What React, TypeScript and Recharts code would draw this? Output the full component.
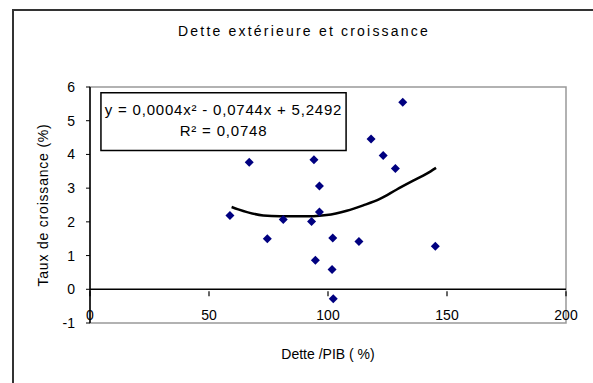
// Dette extérieure et croissance — Excel-style scatter with polynomial trendline.

import {
  ComposedChart, Scatter, Line, XAxis, YAxis,
  ReferenceLine, ReferenceArea, Label,
} from 'recharts'

// observed points: debt / GDP (%) vs growth rate (%)
const DEBT = [58.8, 66.9, 74.5, 81.2, 93.1, 94.1, 96.4, 96.4, 94.7, 101.7, 102, 102.2, 113, 118.1, 131.4, 123.2, 128.3, 145.1]
const GROWTH = [2.19, 3.77, 1.5, 2.07, 2.01, 3.84, 3.06, 2.29, 0.86, 0.59, 1.52, -0.28, 1.42, 4.46, 5.55, 3.97, 3.58, 1.28]

// polynomial trendline
const TREND_X = [59.5, 62.3, 72.8, 79.8, 93.8, 99.4, 107.9, 114.8, 121.8, 128.9, 135.8, 141.5, 145.4]
const TREND_Y = [2.44, 2.37, 2.19, 2.17, 2.17, 2.2, 2.33, 2.49, 2.68, 2.96, 3.22, 3.43, 3.6]

const X_TICKS = [0, 50, 100, 150, 200]
const Y_TICKS = [-1, 0, 1, 2, 3, 4, 5, 6]

const TITLE = 'Dette extérieure et croissance'
const X_LABEL = 'Dette /PIB ( %)'
const Y_LABEL = 'Taux de croissance (%)'
const EQ_LINE1 = 'y = 0,0004x² - 0,0744x + 5,2492'
const EQ_LINE2 = 'R² = 0,0748'
// equation box corners, in data units
const EQ_X = [4.6, 107.6]
const EQ_Y = [4.12, 5.83]

const points = DEBT.map((x, i) => ({ x, y: GROWTH[i] }))
const trend = TREND_X.map((x, i) => ({ x, y: TREND_Y[i] }))

const FONT = '"Liberation Sans", Arial, sans-serif'
const UNIT_PX = 33.8 // one y unit, used to hang x ticks on the zero line

const Diamond = ({ cx, cy }: any) => (
  <polygon
    points={`${cx},${cy - 4.5} ${cx + 4.5},${cy} ${cx},${cy + 4.5} ${cx - 4.5},${cy}`}
    fill="#000080"
  />
)

const XTick = ({ x, y, payload }: any) => {
  const y0 = y - UNIT_PX
  return (
    <g>
      <line x1={x} x2={x} y1={y0} y2={y0 + 5} stroke="#000" strokeWidth={1.2} />
      <text x={x} y={y - 5} textAnchor="middle" fontSize={14} fontFamily={FONT} fill="#000">
        {payload.value}
      </text>
    </g>
  )
}

const EqLabel = ({ viewBox }: any) => {
  const { x, y, width } = viewBox
  return (
    <g fontFamily={FONT} fontSize={15} fill="#000" letterSpacing={0.8}>
      <text x={x + width / 2} y={y + 22} textAnchor="middle">{EQ_LINE1}</text>
      <text x={x + width / 2} y={y + 43} textAnchor="middle">{EQ_LINE2}</text>
    </g>
  )
}

export default function App() {
  return (
    <div style={{
      position: 'absolute', left: 0, top: 0, width: 593, height: 383,
      overflow: 'hidden', background: '#fff', fontFamily: FONT,
    }}>
      <div style={{
        position: 'absolute', left: 12, top: 9, width: 620, height: 372,
        border: '2px solid #333',
      }} />
      <div style={{
        position: 'absolute', left: 15, width: 578, top: 23, textAlign: 'center',
        fontSize: 14, letterSpacing: 2.2, color: '#000',
      }}>
        {TITLE}
      </div>
      <div style={{ position: 'absolute', left: 0, top: 0 }}>
        <ComposedChart
          width={593}
          height={383}
          margin={{ top: 87, right: 27, left: 40, bottom: 30 }}
        >
          <XAxis
            type="number"
            dataKey="x"
            domain={[0, 200]}
            ticks={X_TICKS}
            axisLine={false}
            tickLine={false}
            tickSize={0}
            tick={<XTick />}
            height={30}
            interval={0}
          >
            <Label
              value={X_LABEL}
              position="bottom"
              offset={-4}
              style={{ fontSize: 14, fontFamily: FONT, fill: '#000' }}
            />
          </XAxis>
          <YAxis
            type="number"
            dataKey="y"
            domain={[-1, 6]}
            ticks={Y_TICKS}
            interval={0}
            width={50}
            axisLine={{ stroke: '#000', strokeWidth: 1.5 }}
            tickLine={{ stroke: '#000' }}
            tickSize={4}
            tickMargin={11}
            tick={{ fontSize: 14, fontFamily: FONT, fill: '#000' }}
          >
            <Label
              value={Y_LABEL}
              angle={-90}
              position="insideLeft"
              offset={3}
              style={{ fontSize: 14, fontFamily: FONT, fill: '#000', textAnchor: 'middle', letterSpacing: 0.8 }}
            />
          </YAxis>

          {/* plot area frame */}
          <ReferenceArea
            x1={0} x2={200} y1={-1} y2={6}
            fill="none" stroke="#999" strokeWidth={1.5} ifOverflow="visible"
          />
          <ReferenceLine y={0} stroke="#000" strokeWidth={1.5} />

          <ReferenceArea
            x1={EQ_X[0]} x2={EQ_X[1]} y1={EQ_Y[0]} y2={EQ_Y[1]}
            fill="#fff" fillOpacity={1} stroke="#000" strokeWidth={1.5}
            label={<EqLabel />}
          />

          <Scatter data={points} shape={<Diamond />} isAnimationActive={false} />
          <Line
            data={trend}
            dataKey="y"
            type="monotone"
            stroke="#000"
            strokeWidth={2.5}
            dot={false}
            activeDot={false}
            isAnimationActive={false}
          />
        </ComposedChart>
      </div>
    </div>
  )
}
